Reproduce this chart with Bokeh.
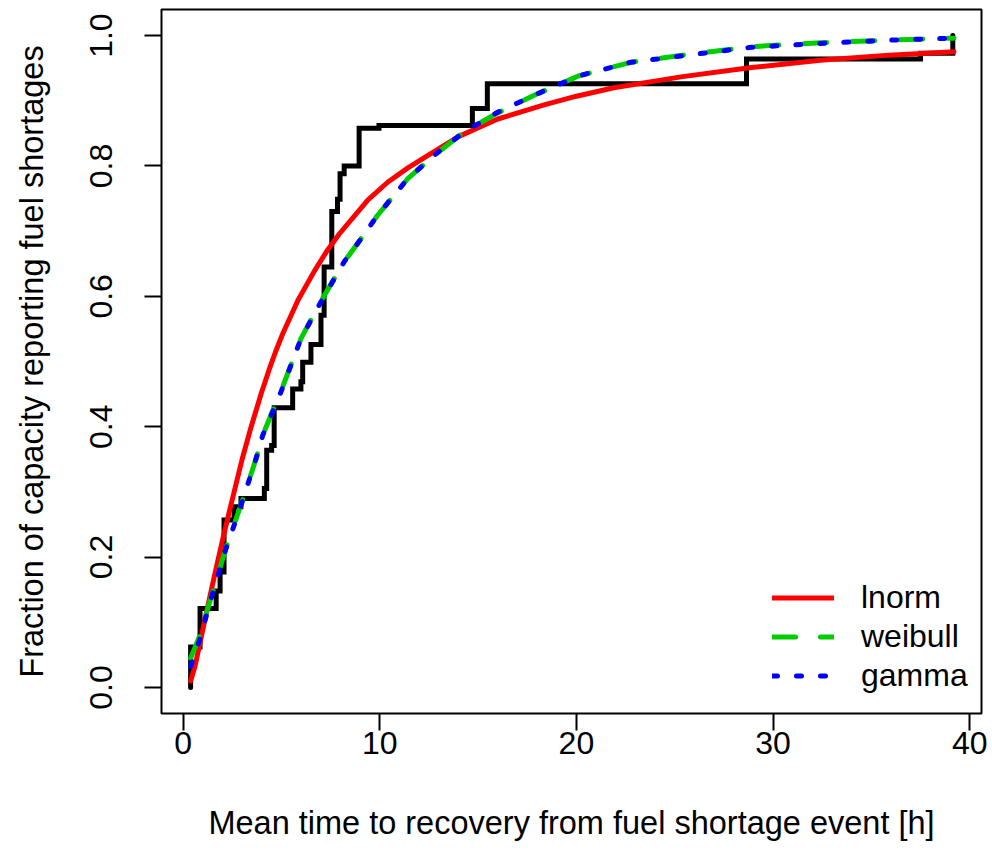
import numpy as np
from bokeh.plotting import figure
from bokeh.models import Range1d, FixedTicker, Legend, LegendItem, NumeralTickFormatter
from bokeh.embed import file_html
from bokeh.resources import INLINE

FONT = "Liberation Sans"

# Empirical (weighted) CDF: jump locations [h] and level after each jump
ecdf_x = [0.38, 0.86, 1.68, 1.88, 2.08, 2.59, 2.94, 4.13, 4.25, 4.50, 4.63, 5.57, 5.99, 6.08,
          6.50, 7.01, 7.17, 7.56, 7.85, 7.98, 8.19, 8.95, 9.96, 14.71, 15.47, 28.65, 37.5, 39.14]
ecdf_y = [0.062, 0.121, 0.148, 0.177, 0.257, 0.277, 0.290, 0.305, 0.364, 0.371, 0.429, 0.458,
          0.469, 0.499, 0.526, 0.571, 0.645, 0.730, 0.749, 0.788, 0.800, 0.858, 0.862, 0.888,
          0.926, 0.964, 0.973, 1.0]

# Fitted CDFs
lnorm_x = [0.38, 0.6, 0.8, 1.08, 1.4, 1.68, 2.08, 2.44, 3.0, 3.46, 3.97, 4.39, 4.7, 5.07, 5.84,
           6.68, 7.3, 7.95, 9.4, 10.4, 11.43, 13.13, 14.0, 16.0, 18.4, 20.0, 21.9, 25.4, 28.9,
           32.4, 35.9, 39.2]
lnorm_y = [0.010, 0.032, 0.060, 0.100, 0.145, 0.183, 0.236, 0.281, 0.350, 0.400, 0.451, 0.489,
           0.515, 0.543, 0.594, 0.639, 0.669, 0.696, 0.748, 0.775, 0.797, 0.829, 0.845, 0.872,
           0.894, 0.907, 0.920, 0.937, 0.951, 0.962, 0.970, 0.975]

weibull_x = [0.38, 0.83, 1.42, 2.18, 2.94, 3.71, 4.05, 4.47, 4.97, 5.99, 7.0, 8.19, 9.04, 9.88,
             11.41, 12.76, 14.28, 15.97, 18.04, 20.1, 22.76, 25.4, 28.9, 32.4, 35.9, 39.2]
weibull_y = [0.045, 0.078, 0.138, 0.214, 0.280, 0.351, 0.387, 0.418, 0.454, 0.535, 0.592, 0.653,
             0.688, 0.724, 0.780, 0.816, 0.852, 0.881, 0.911, 0.938, 0.959, 0.970, 0.983, 0.989,
             0.993, 0.996]

gamma_x = [0.38, 0.83, 1.42, 2.18, 2.94, 3.71, 4.05, 4.47, 4.97, 5.99, 7.0, 8.19, 9.04, 9.88,
           11.41, 12.76, 14.28, 15.97, 18.04, 20.1, 22.76, 25.4, 28.9, 32.4, 35.9, 39.2]
gamma_y = [0.032, 0.072, 0.136, 0.213, 0.279, 0.351, 0.387, 0.417, 0.453, 0.535, 0.591, 0.653,
           0.688, 0.724, 0.780, 0.816, 0.852, 0.882, 0.911, 0.938, 0.959, 0.969, 0.982, 0.988,
           0.993, 0.996]

x_ticks = [0, 10, 20, 30, 40]
y_ticks = [0.0, 0.2, 0.4, 0.6, 0.8, 1.0]
series_names = ["lnorm", "weibull", "gamma"]
x_title = "Mean time to recovery from fuel shortage event [h]"
y_title = "Fraction of capacity reporting fuel shortages"

p = figure(frame_width=820, frame_height=704,
           x_range=Range1d(-1.1, 40.6), y_range=Range1d(-0.04, 1.04),
           output_backend="svg", toolbar_location=None,
           min_border_left=161, min_border_right=11, min_border_top=9, min_border_bottom=154)
p.grid.visible = False
p.outline_line_color = "black"
p.outline_line_width = 2
p.background_fill_color = "white"
p.border_fill_color = "white"

# step path for the empirical CDF
sx, sy = [], []
prev = 0.0
for xv, yv in zip(ecdf_x, ecdf_y):
    sx += [xv, xv]
    sy += [prev, yv]
    prev = yv
p.line(sx, sy, line_color="black", line_width=5, line_join="miter", line_cap="round")

r1 = p.line(lnorm_x, lnorm_y, line_color="#FF0000", line_width=5, line_cap="round",
            line_join="round")
r2 = p.line(weibull_x, weibull_y, line_color="#00CD00", line_width=5, line_cap="round",
            line_dash="23 25")
r3 = p.line(gamma_x, gamma_y, line_color="#0000FF", line_width=5, line_cap="round",
            line_dash="5 19")

for ax in (p.xaxis[0], p.yaxis[0]):
    ax.axis_line_color = None
    ax.major_tick_line_color = "black"
    ax.major_tick_line_width = 2
    ax.major_tick_out = 17
    ax.major_tick_in = 0
    ax.minor_tick_line_color = None
    ax.major_label_text_font = FONT
    ax.major_label_text_font_size = "32px"
    ax.major_label_text_color = "black"
    ax.axis_label_text_font = FONT
    ax.axis_label_text_font_size = "32.5px"
    ax.axis_label_text_font_style = "normal"
    ax.axis_label_text_color = "black"

p.xaxis[0].ticker = FixedTicker(ticks=x_ticks)
p.xaxis[0].formatter = NumeralTickFormatter(format="0")
p.xaxis[0].major_label_standoff = 1
p.xaxis[0].axis_label = x_title
p.xaxis[0].axis_label_standoff = 48

p.yaxis[0].ticker = FixedTicker(ticks=y_ticks)
p.yaxis[0].formatter = NumeralTickFormatter(format="0.0")
p.yaxis[0].major_label_orientation = "vertical"
p.yaxis[0].major_label_standoff = 32
p.yaxis[0].axis_label = y_title
p.yaxis[0].axis_label_standoff = 38

legend = Legend(items=[LegendItem(label=series_names[0], renderers=[r1]),
                       LegendItem(label=series_names[1], renderers=[r2]),
                       LegendItem(label=series_names[2], renderers=[r3])],
                location=(611, 18), orientation="vertical",
                glyph_width=62, glyph_height=39, label_height=39, spacing=0,
                padding=0, margin=0, label_standoff=27,
                label_text_font=FONT, label_text_font_size="32px", label_text_color="black",
                border_line_color=None, background_fill_alpha=0)
p.add_layout(legend)

open("out.html", "w").write(file_html(p, INLINE))
